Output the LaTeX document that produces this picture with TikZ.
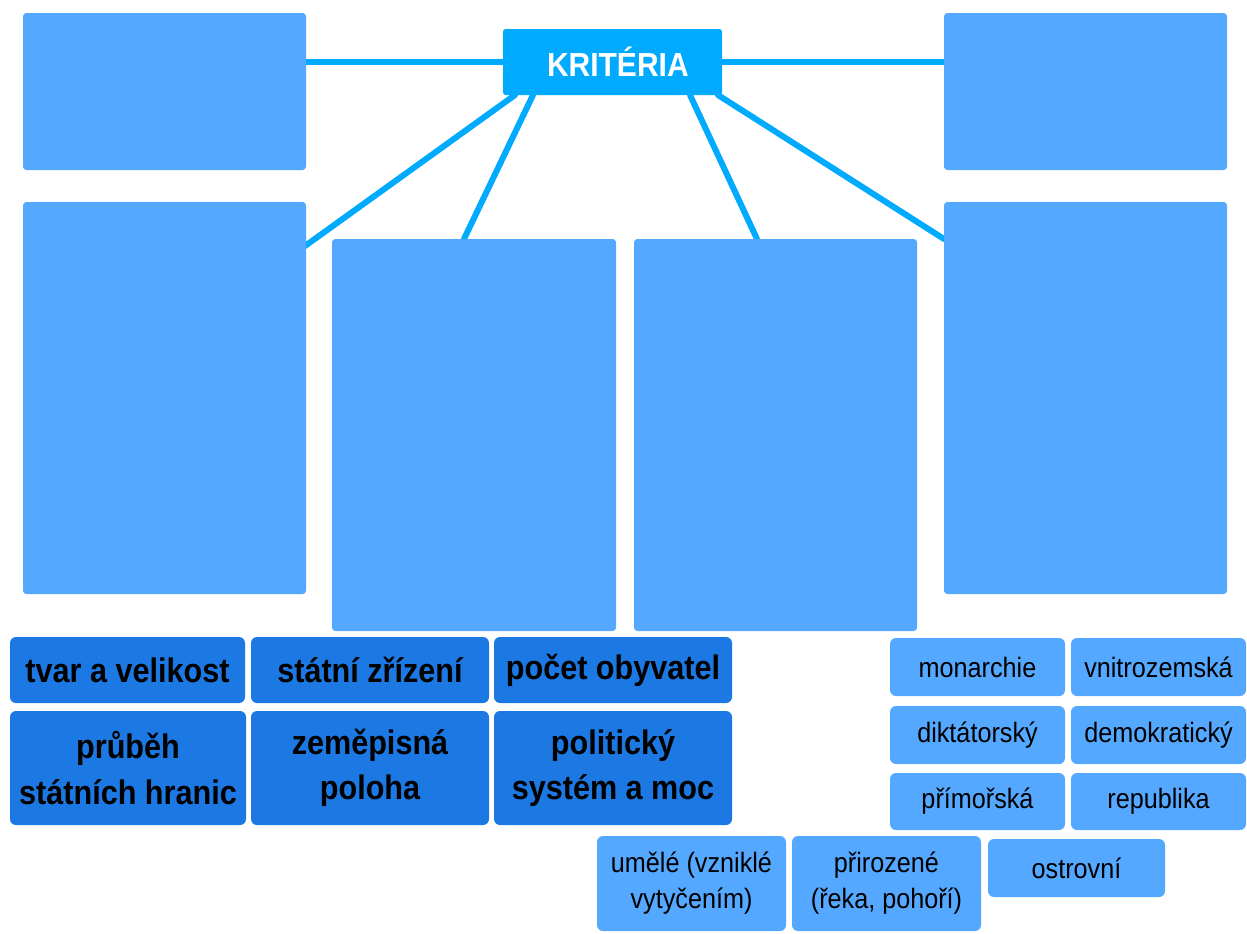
\documentclass[tikz,border=0pt]{standalone}
\usepackage{fontspec}
\setmainfont{Liberation Sans}[FakeStretch=0.9]
\usetikzlibrary{calc}
\pgfdeclarelayer{bg}
\pgfsetlayers{bg,main}
\definecolor{lightbox}{HTML}{55A8FF}
\definecolor{darkbox}{HTML}{1C78E2}
\definecolor{linec}{HTML}{00AAFF}
\tikzset{
  big/.style={fill=lightbox, rounded corners=2.5pt, inner sep=0pt, outer sep=0pt},
  head/.style={fill=linec, rounded corners=2pt, inner sep=0pt, outer sep=0pt, text=white,
    font=\fontsize{25}{30}\selectfont\bfseries},
  dark/.style={fill=darkbox, rounded corners=4.5pt, inner sep=0pt, outer sep=0pt, align=center,
    font=\fontsize{25.5}{34}\selectfont\bfseries},
  small/.style={fill=lightbox, rounded corners=4.5pt, inner sep=0pt, outer sep=0pt, align=center,
    font=\fontsize{21}{27}\selectfont},
  conn/.style={draw=linec, line width=4.5pt, line cap=round}
}
\begin{document}
\begin{tikzpicture}[x=0.75pt,y=-0.75pt]
\useasboundingbox (0,0) rectangle (1247,933);
% big boxes
\node[big, minimum width=283*0.75pt, minimum height=157*0.75pt] (tl) at (164.5,91.5) {};
\node[big, minimum width=283*0.75pt, minimum height=157*0.75pt] (tr) at (1085.5,91.5) {};
\node[big, minimum width=283*0.75pt, minimum height=392*0.75pt] (l) at (164.5,398) {};
\node[big, minimum width=284*0.75pt, minimum height=392*0.75pt] (cl) at (474,435) {};
\node[big, minimum width=283*0.75pt, minimum height=392*0.75pt] (cr) at (775.5,435) {};
\node[big, minimum width=283*0.75pt, minimum height=392*0.75pt] (r) at (1085.5,398) {};
% header
\node[head, minimum width=219*0.75pt, minimum height=66*0.75pt] (k) at (612.5,62) {\hspace*{8pt}KRITÉRIA};
% connectors
\begin{pgfonlayer}{bg}
\draw[conn] (tl.east |- k.west) -- (k.west);
\draw[conn] (k.east) -- (tr.west |- k.east);
\draw[conn] ($(l.north east)+(-1,44)$) -- ($(k.south west)+(12,0)$);
\draw[conn] ($(cl.north west)+(132,0)$) -- ($(k.south west)+(30,0)$);
\draw[conn] ($(cr.north west)+(123,0)$) -- ($(k.south east)+(-32,0)$);
\draw[conn] ($(r.north west)+(0,37)$) -- ($(k.south east)+(-4,0)$);
\end{pgfonlayer}
% dark criteria boxes
\node[dark, minimum width=235*0.75pt, minimum height=66*0.75pt] (d1) at (127.5,670) {tvar a velikost};
\node[dark, minimum width=238*0.75pt, minimum height=66*0.75pt] (d2) at (370,670) {státní zřízení};
\node[dark, minimum width=238*0.75pt, minimum height=66*0.75pt] (d3) at (613,670) {počet obyvatel};
\node[dark, minimum width=236*0.75pt, minimum height=114*0.75pt] (d4) at (128,768) {průběh\\státních hranic};
\node[dark, minimum width=238*0.75pt, minimum height=114*0.75pt] (d5) at (370,768) {zeměpisná\\poloha};
\node[dark, minimum width=238*0.75pt, minimum height=114*0.75pt] (d6) at (613,768) {politický\\systém a moc};
% small answer boxes
\node[small, minimum width=175*0.75pt, minimum height=58*0.75pt] (s1) at (977.5,667) {monarchie};
\node[small, minimum width=175*0.75pt, minimum height=58*0.75pt] (s2) at (1158.5,667) {vnitrozemská};
\node[small, minimum width=175*0.75pt, minimum height=58*0.75pt] (s3) at (977.5,735) {diktátorský};
\node[small, minimum width=175*0.75pt, minimum height=58*0.75pt] (s4) at (1158.5,735) {demokratický};
\node[small, minimum width=175*0.75pt, minimum height=57*0.75pt] (s5) at (977.5,801.5) {přímořská};
\node[small, minimum width=175*0.75pt, minimum height=57*0.75pt] (s6) at (1158.5,801.5) {republika};
\node[small, minimum width=189*0.75pt, minimum height=95*0.75pt] (b1) at (691.5,883.5) {umělé (vzniklé\\vytyčením)};
\node[small, minimum width=189*0.75pt, minimum height=95*0.75pt] (b2) at (886.5,883.5) {přirozené\\(řeka, pohoří)};
\node[small, minimum width=177*0.75pt, minimum height=58*0.75pt] (b3) at (1076.5,868) {ostrovní};
\end{tikzpicture}
\end{document}
